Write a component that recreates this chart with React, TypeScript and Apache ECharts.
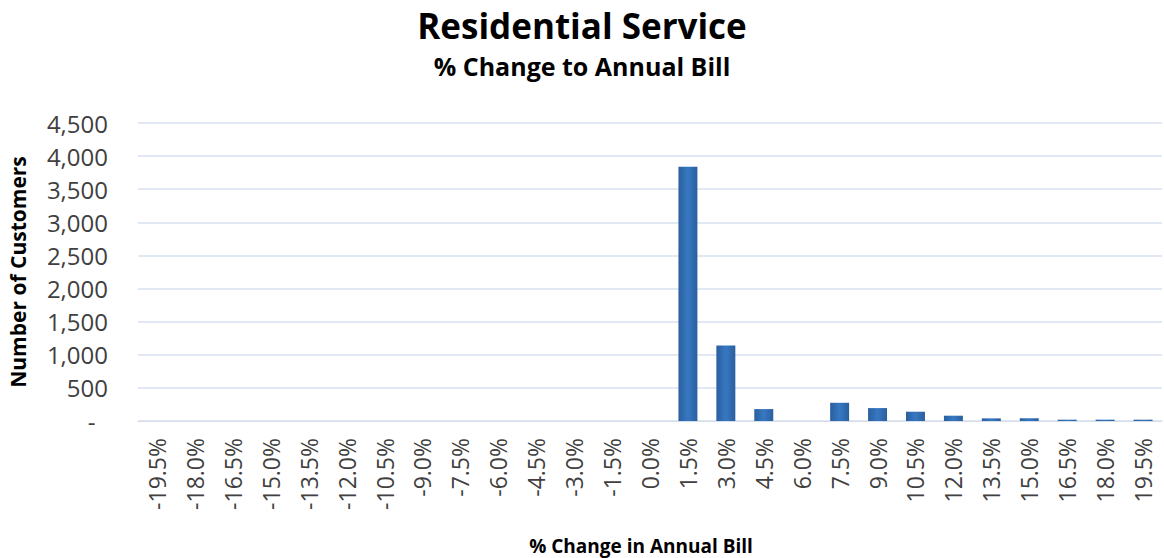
import React, { useEffect, useRef } from "react";
import * as echarts from "echarts";

const categories: string[] = [
  "-19.5%", "-18.0%", "-16.5%", "-15.0%", "-13.5%", "-12.0%", "-10.5%", "-9.0%", "-7.5%",
  "-6.0%", "-4.5%", "-3.0%", "-1.5%", "0.0%", "1.5%", "3.0%", "4.5%", "6.0%", "7.5%",
  "9.0%", "10.5%", "12.0%", "13.5%", "15.0%", "16.5%", "18.0%", "19.5%",
];

const customers: number[] = [
  0, 0, 0, 0, 0, 0, 0, 0, 0,
  0, 0, 0, 0, 0, 3840, 1140, 180, 0, 275,
  195, 140, 80, 40, 40, 20, 20, 20,
];

const yTicks = { min: 0, max: 4500, interval: 500 };

const FONT = "'Open Sans', Lato, sans-serif";

export default function App() {
  const ref = useRef<HTMLDivElement>(null);

  useEffect(() => {
    if (!ref.current) return;
    const chart = echarts.init(ref.current, null, { renderer: "svg" });
    chart.setOption({
      animation: false,
      backgroundColor: "#ffffff",
      title: [
        {
          text: "Residential Service",
          left: "center",
          top: 3,
          textStyle: { fontFamily: FONT, fontSize: 35, fontWeight: "bold", color: "#000000" },
        },
        {
          text: "% Change to Annual Bill",
          left: "center",
          top: 48,
          textStyle: { fontFamily: FONT, fontSize: 25, fontWeight: "bold", color: "#000000" },
        },
      ],
      grid: {
        left: 138,
        right: 2,
        top: 123,
        bottom: 137,
        containLabel: false,
        outerBoundsMode: "none",
      },
      xAxis: {
        type: "category",
        data: categories,
        name: "% Change in Annual Bill",
        nameLocation: "middle",
        nameGap: 115,
        nameTextStyle: {
          fontFamily: FONT,
          fontSize: 19,
          fontWeight: "bold",
          color: "#000000",
          padding: [0, 18, 0, 0],
        },
        axisLine: { show: true, lineStyle: { color: "#d6dde8", width: 1 } },
        axisTick: { show: false },
        axisLabel: {
          rotate: 90,
          interval: 0,
          margin: 17,
          fontFamily: FONT,
          fontSize: 23,
          color: "#404040",
        },
      },
      yAxis: {
        type: "value",
        min: yTicks.min,
        max: yTicks.max,
        interval: yTicks.interval,
        name: "Number of Customers",
        nameLocation: "middle",
        nameGap: 110,
        nameTextStyle: { fontFamily: FONT, fontSize: 21, fontWeight: "bold", color: "#000000" },
        axisLine: { show: false },
        axisTick: { show: false },
        splitLine: { lineStyle: { color: "#d6e0ef", width: 1.5 } },
        axisLabel: {
          margin: 30,
          fontFamily: FONT,
          fontSize: 24,
          color: "#404040",
          formatter: (v: number) => (v === 0 ? "-  " : v.toLocaleString("en-US")),
        },
      },
      series: [
        {
          type: "bar",
          data: customers,
          barWidth: "50%",
          itemStyle: {
            color: new echarts.graphic.LinearGradient(0, 0, 1, 0, [
              { offset: 0, color: "#2a5f9e" },
              { offset: 0.5, color: "#3778c2" },
              { offset: 1, color: "#2a5f9e" },
            ]),
          },
        },
      ],
    });
    return () => chart.dispose();
  }, []);

  return (
    <div
      ref={ref}
      style={{ position: "fixed", left: 0, top: 0, width: 1164, height: 558 }}
    />
  );
}
